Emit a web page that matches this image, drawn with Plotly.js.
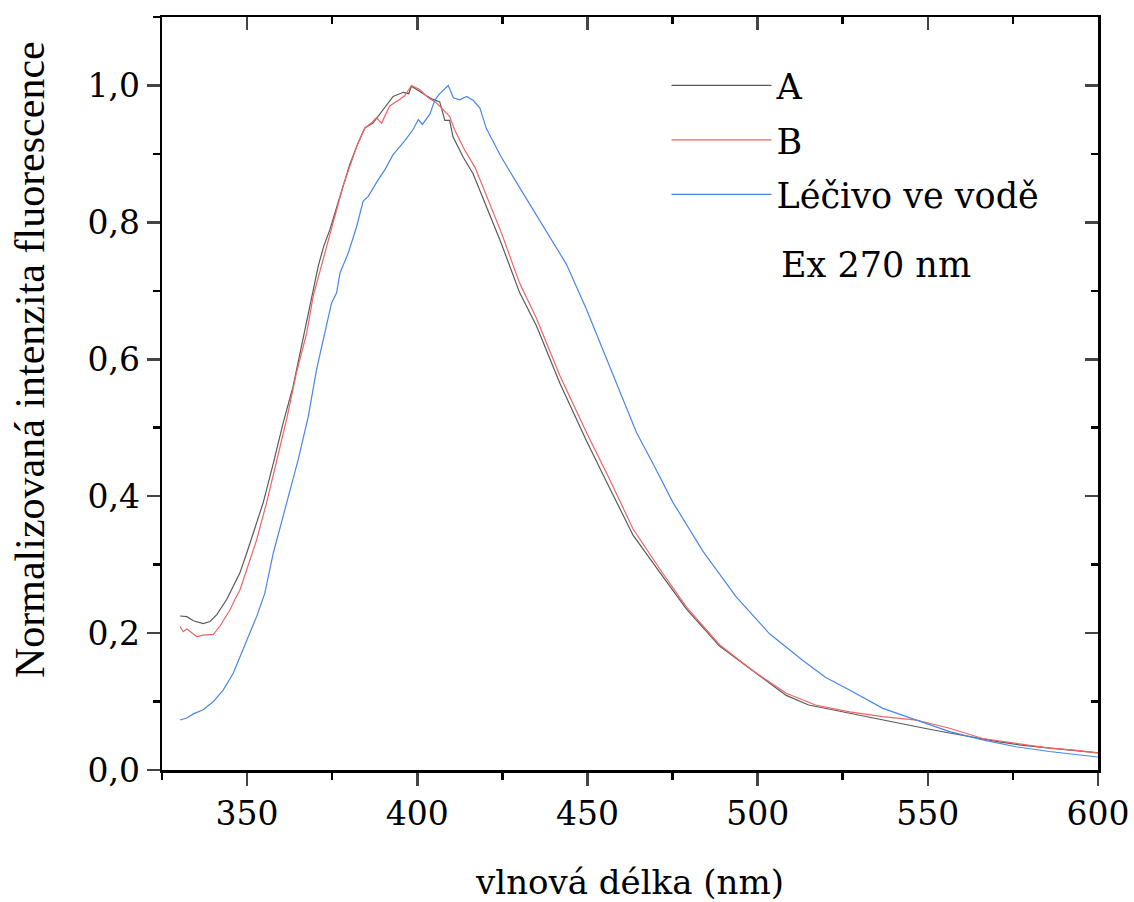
<!DOCTYPE html>
<html>
<head>
<meta charset="utf-8">
<script src="https://cdn.plot.ly/plotly-3.0.1.min.js"></script>
<style>html,body{margin:0;padding:0;background:#fff;}#chart{width:1134px;height:902px;}</style>
</head>
<body>
<div id="chart"></div>
<script>
// Series A (gray)
const wlA = [330.3,332.3,334.2,337.1,339.1,341.1,344.0,345.9,347.9,349.9,352.3,354.7,357.7,360.6,363.5,366.0,368.5,370.9,372.5,374.3,376.5,378.2,380.2,382.6,384.6,387.0,388.5,390.0,392.9,395.9,397.5,398.3,399.5,400.7,402.7,404.5,406.6,408.1,409.5,410.5,413.5,416.4,420.3,424.7,430.1,435.0,441.9,449.7,455.6,463.4,471.2,479.1,488.8,498.6,508.4,515.0,523.0,527.0,534.0,541.7,549.0,556.4,564.0,571.0,578.0,585.7,593.0,600.0];
const intA = [0.225,0.224,0.218,0.214,0.217,0.227,0.249,0.268,0.288,0.317,0.352,0.390,0.448,0.507,0.560,0.619,0.677,0.736,0.765,0.789,0.825,0.853,0.885,0.916,0.938,0.945,0.955,0.965,0.984,0.990,0.988,0.999,0.995,0.991,0.985,0.980,0.976,0.949,0.949,0.925,0.895,0.871,0.823,0.769,0.697,0.649,0.565,0.481,0.421,0.343,0.289,0.235,0.181,0.145,0.109,0.095,0.087,0.083,0.075,0.068,0.061,0.054,0.047,0.041,0.036,0.032,0.028,0.025];

// Series B (red)
const wlB = [330.3,331.2,332.3,335.2,337.1,340.1,342.0,345.0,346.4,347.9,348.9,350.8,352.8,355.7,358.7,361.6,364.5,367.5,369.4,371.4,374.3,378.2,382.2,384.6,386.5,388.0,389.5,391.9,394.9,396.3,398.3,400.7,403.2,405.5,407.5,409.5,411.0,414.0,417.0,420.3,424.7,430.0,435.0,442.0,450.0,456.0,463.4,471.2,479.1,488.8,498.6,508.4,517.0,527.0,536.8,546.6,556.4,566.1,575.9,585.7,593.0,600.0];
const intB = [0.210,0.202,0.206,0.195,0.197,0.198,0.210,0.234,0.249,0.263,0.278,0.307,0.336,0.390,0.453,0.512,0.580,0.638,0.692,0.728,0.784,0.853,0.911,0.938,0.945,0.953,0.945,0.970,0.980,0.985,1.000,0.994,0.982,0.975,0.965,0.955,0.935,0.905,0.880,0.840,0.785,0.712,0.660,0.575,0.490,0.430,0.352,0.294,0.238,0.183,0.145,0.112,0.095,0.085,0.078,0.073,0.061,0.046,0.039,0.032,0.029,0.025];

// Léčivo ve vodě (blue)
const wlC = [330.3,332.3,334.2,337.1,340.1,343.0,345.9,347.9,350.8,352.8,355.2,357.7,361.1,365.0,368.0,370.4,372.4,374.8,376.3,377.3,379.7,382.2,384.1,385.6,388.0,390.5,392.9,396.3,398.8,400.3,401.5,403.7,405.2,406.6,409.1,410.6,412.5,414.5,416.5,418.4,420.3,424.7,432.0,437.9,443.8,449.7,454.6,459.5,464.4,469.2,475.1,484.0,493.7,503.5,513.3,520.0,527.0,536.8,546.6,556.4,566.1,575.9,585.7,593.0,600.0];
const intC = [0.073,0.076,0.082,0.088,0.100,0.117,0.141,0.166,0.200,0.224,0.258,0.317,0.380,0.453,0.517,0.585,0.629,0.682,0.697,0.726,0.755,0.794,0.831,0.838,0.858,0.877,0.899,0.919,0.936,0.950,0.943,0.958,0.979,0.988,1.000,0.982,0.979,0.984,0.978,0.967,0.937,0.895,0.835,0.787,0.739,0.673,0.613,0.553,0.493,0.448,0.391,0.319,0.253,0.199,0.160,0.135,0.117,0.090,0.073,0.056,0.044,0.034,0.027,0.023,0.019];

const names = ['A', 'B', 'Léčivo ve vodě'];
const colors = ['#5a5a5a', '#f06464', '#4a86e8'];
const yTitle = 'Normalizovaná intenzita fluorescence';

const FONT = 'DejaVu Serif, serif';
const series = [[wlA, intA], [wlB, intB], [wlC, intC]];
const traces = series.map((s, i) => ({
  x: s[0], y: s[1], type: 'scatter', mode: 'lines', name: names[i],
  legendgroup: 'g' + i,
  line: {color: colors[i], width: 1.2}
}));
// empty trace so the mirrored (top/right) frame axes are drawn
traces.push({x: [], y: [], xaxis: 'x2', yaxis: 'y2', type: 'scatter', mode: 'lines',
  showlegend: false, hoverinfo: 'skip'});

const xr = [325, 600], yr = [0, 1.1];
const layout = {
  width: 1134, height: 902,
  margin: {l: 162, r: 36, t: 17, b: 132},
  paper_bgcolor: '#fff', plot_bgcolor: '#fff',
  separators: ', ',
  font: {family: FONT, size: 33, color: '#000'},
  showlegend: true,
  legend: {x: 0.539, xanchor: 'left', y: 0.948, yanchor: 'top', bgcolor: 'rgba(0,0,0,0)',
    font: {family: FONT, size: 35}, itemwidth: 100, tracegroupgap: 6, traceorder: 'grouped'},
  xaxis: {range: xr, tick0: 350, dtick: 50, ticks: 'outside', ticklen: 13, tickwidth: 2.5,
    showline: true, linewidth: 2.5, linecolor: '#000', showgrid: false, zeroline: false,
    minor: {dtick: 25, ticks: 'outside', ticklen: 7, tickwidth: 2.5, tickcolor: '#000', showgrid: false},
    title: {text: 'vlnová délka (nm)', font: {family: FONT, size: 34}, standoff: 41},
    tickfont: {family: FONT, size: 33}},
  yaxis: {range: yr, dtick: 0.2, tickformat: '.1f', ticks: 'outside', ticklen: 13, tickwidth: 2.5,
    showline: true, linewidth: 2.5, linecolor: '#000', showgrid: false, zeroline: false,
    minor: {dtick: 0.1, ticks: 'outside', ticklen: 7, tickwidth: 2.5, tickcolor: '#000', showgrid: false},
    tickfont: {family: FONT, size: 33}},
  xaxis2: {range: xr, overlaying: 'x', side: 'top', anchor: 'y2', tick0: 350, dtick: 50,
    ticks: 'inside', ticklen: 13, tickwidth: 2.5, showticklabels: false,
    showline: true, linewidth: 2.5, linecolor: '#000', showgrid: false, zeroline: false,
    minor: {dtick: 25, ticks: 'inside', ticklen: 7, tickwidth: 2.5, tickcolor: '#000', showgrid: false}},
  yaxis2: {range: yr, overlaying: 'y', side: 'right', anchor: 'x2', dtick: 0.2,
    ticks: 'inside', ticklen: 13, tickwidth: 2.5, showticklabels: false,
    showline: true, linewidth: 2.5, linecolor: '#000', showgrid: false, zeroline: false,
    minor: {dtick: 0.1, ticks: 'inside', ticklen: 7, tickwidth: 2.5, tickcolor: '#000', showgrid: false}},
  annotations: [
    {text: 'Ex 270 nm', xref: 'paper', yref: 'paper', x: 0.659, y: 0.671,
     xanchor: 'left', yanchor: 'middle', showarrow: false, font: {family: FONT, size: 35, color: '#000'}},
    {text: yTitle, xref: 'paper', yref: 'paper', x: -0.141, y: 0.5445, textangle: -90,
     xanchor: 'center', yanchor: 'middle', showarrow: false,
     font: {family: 'Liberation Serif', size: 42, color: '#000'}}
  ]
};

Plotly.newPlot('chart', traces, layout, {displayModeBar: false, staticPlot: true});
</script>
</body>
</html>
